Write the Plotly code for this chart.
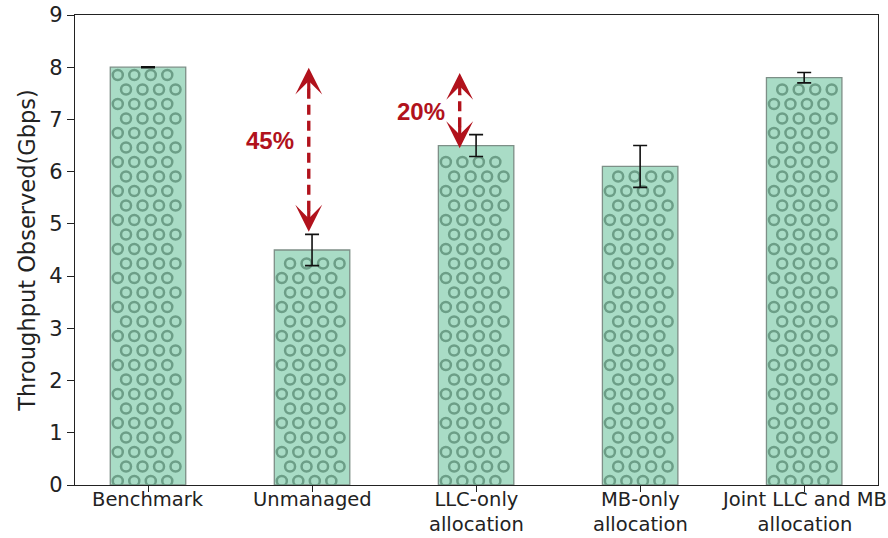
import numpy as np
import plotly.graph_objects as go

# Measured throughput per configuration (mean and error)
categories = ["Benchmark", "Unmanaged", "LLC-only<br>allocation", "MB-only<br>allocation",
              "Joint LLC and MB<br>allocation"]
throughput = [8.0, 4.5, 6.5, 6.1, 7.8]
throughput_err = [0.01, 0.3, 0.21, 0.4, 0.1]

y_ticks = [0, 1, 2, 3, 4, 5, 6, 7, 8, 9]

# Gap callouts: label, arrow x position, arrow top, arrow bottom, label position
gap_labels = ["45%", "20%"]
gap_arrow_x = [0.98, 1.90]
gap_arrow_top = [7.99, 7.89]
gap_arrow_bottom = [4.85, 6.45]
gap_label_x = [0.745, 1.665]
gap_label_y = [6.6, 7.15]

xpos = list(range(len(categories)))

FILL = "#a9dcc6"
RING = "#6c9e87"
EDGE = "#7d8f87"
RED = "#b1121c"
FONT = "DejaVu Sans"
INK = "#222222"
BAR_W = 0.46

W, H = 888, 538
M_L, M_R, M_T, M_B = 75, 10, 15, 53
X_RANGE = [-0.445, 4.45]
Y_RANGE = [0, 9]
px_per_x = (W - M_L - M_R) / (X_RANGE[1] - X_RANGE[0])
px_per_y = (H - M_T - M_B) / (Y_RANGE[1] - Y_RANGE[0])

# Staggered ring hatch inside each bar (spacing in pixels)
HATCH_DX, HATCH_DY, RING_R = 16.5, 14.5, 6.0
ring_x, ring_y = [], []
bar_px = BAR_W * px_per_x
for i, v in enumerate(throughput):
    left = i - BAR_W / 2
    top_px = v * px_per_y
    row = 0
    yc = 4.0
    while yc + RING_R - 2 <= top_px:
        if row % 2 == 0:
            cols = np.arange(7.5, bar_px - RING_R + 0.6, HATCH_DX)
        else:
            cols = np.arange(7.5 + HATCH_DX / 2, bar_px - RING_R + 0.6, HATCH_DX)
        for xc in cols:
            ring_x.append(left + xc / px_per_x)
            ring_y.append(yc / px_per_y)
        row += 1
        yc += HATCH_DY

fig = go.Figure()

fig.add_trace(go.Bar(
    x=xpos, y=throughput, width=BAR_W,
    marker=dict(color=FILL, line=dict(width=1.3, color=EDGE)),
    hoverinfo="skip", showlegend=False,
))

fig.add_trace(go.Scatter(
    x=ring_x, y=ring_y, mode="markers",
    marker=dict(symbol="circle-open", size=10, color=RING, line=dict(width=2.5, color=RING)),
    hoverinfo="skip", showlegend=False,
))

fig.add_trace(go.Scatter(
    x=xpos, y=throughput, mode="markers",
    marker=dict(size=1, color="rgba(0,0,0,0)"),
    error_y=dict(type="data", array=throughput_err, visible=True,
                 color="#111111", thickness=1.6, width=7),
    hoverinfo="skip", showlegend=False,
))

# Category labels under the axis
for i, cat in enumerate(categories):
    fig.add_annotation(x=i, y=0, xref="x", yref="paper", text=cat,
                       showarrow=False, yanchor="top", xanchor="center",
                       yshift=-2, borderpad=0,
                       font=dict(family=FONT, size=19.5, color=INK))

# Dashed double-headed arrows with percentage labels
for lab, ax_x, top, bot, lx, ly in zip(gap_labels, gap_arrow_x, gap_arrow_top,
                                        gap_arrow_bottom, gap_label_x, gap_label_y):
    fig.add_shape(type="line", xref="x", yref="y", x0=ax_x, x1=ax_x,
                  y0=bot + 0.4, y1=top - 0.4,
                  line=dict(color=RED, width=3.4, dash="10px,6px"))
    fig.add_annotation(x=ax_x, y=top, xref="x", yref="y", text="", showarrow=True,
                       ax=0, ay=23, arrowhead=3, arrowsize=1.4, arrowwidth=3.2,
                       arrowcolor=RED, standoff=0)
    fig.add_annotation(x=ax_x, y=bot, xref="x", yref="y", text="", showarrow=True,
                       ax=0, ay=-23, arrowhead=3, arrowsize=1.4, arrowwidth=3.2,
                       arrowcolor=RED, standoff=0)
    fig.add_annotation(x=lx, y=ly, xref="x", yref="y", text="<b>" + lab + "</b>",
                       showarrow=False,
                       font=dict(family="Liberation Sans", size=24, color=RED))

fig.update_layout(
    width=W, height=H,
    margin=dict(l=M_L, r=M_R, t=M_T, b=M_B, autoexpand=False),
    plot_bgcolor="white", paper_bgcolor="white",
    font=dict(family=FONT, size=20, color=INK),
    xaxis=dict(
        range=X_RANGE, automargin=False,
        tickmode="array", tickvals=xpos, showticklabels=False,
        showline=True, linecolor=INK, linewidth=1.3, mirror=True,
        ticks="outside", ticklen=6, tickwidth=1.2, tickcolor=INK,
        showgrid=False, zeroline=False,
    ),
    yaxis=dict(
        range=Y_RANGE, automargin=False,
        tickmode="array", tickvals=y_ticks,
        showline=True, linecolor=INK, linewidth=1.3, mirror=True,
        ticks="outside", ticklen=7, tickwidth=1.2, tickcolor=INK,
        showgrid=False, zeroline=False,
        tickfont=dict(size=21, family=FONT),
        title=dict(text="Throughput Observed(Gbps)", standoff=7,
                   font=dict(size=22.5, family=FONT)),
    ),
)

fig.write_html("out.html")
